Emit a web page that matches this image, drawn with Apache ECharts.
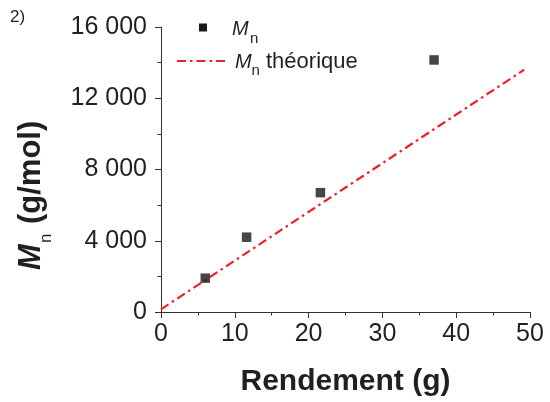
<!DOCTYPE html>
<html><head><meta charset="utf-8">
<script src="https://cdn.jsdelivr.net/npm/echarts@6/dist/echarts.min.js"></script>
<style>html,body{margin:0;padding:0;background:#fff}#c{width:550px;height:402px}</style>
</head><body><div id="c"></div>
<script>
// Measured data: yield (g) vs Mn (g/mol)
var rendement = [6.0, 11.6, 21.6, 37.0];
var mn = [1900, 4200, 6700, 14150];
// Theoretical Mn line endpoints
var theoX = [0, 49.2];
var theoY = [150, 13600];
var xTicks = [0, 10, 20, 30, 40, 50];
var yTicks = [0, 4000, 8000, 12000, 16000];
var xTitle = 'Rendement (g)';
var yTitleMain = 'M', yTitleSub = 'n', yTitleUnit = '(g/mol)';
var legendMain = 'M', legendSub = 'n', legendTheo = 'théorique';

var font = "'Liberation Sans', Arial, sans-serif";
var ink = '#231f20';
var chart = echarts.init(document.getElementById('c'), null, {renderer: 'canvas'});
function fmtY(v){ var s = String(v); return s.length > 3 ? s.slice(0, s.length-3) + ' ' + s.slice(-3) : s; }
function mid(f){ return 0.35 * f; }
chart.setOption({
  animation: false,
  backgroundColor: '#fff',
  grid: {left: 161, right: 20, top: 27, bottom: 89.5, containLabel: false},
  xAxis: {
    type: 'value', min: xTicks[0], max: xTicks[xTicks.length-1], interval: 10,
    name: xTitle, nameLocation: 'middle', nameGap: 55,
    nameTextStyle: {fontFamily: font, fontSize: 30, fontWeight: 'bold', color: ink},
    axisLine: {show: true, lineStyle: {color: '#333', width: 1}},
    axisTick: {show: true, inside: false, length: 6, lineStyle: {color: '#333'}},
    minorTick: {show: true, splitNumber: 2, length: 3.5, lineStyle: {color: '#333'}},
    splitLine: {show: false},
    axisLabel: {fontFamily: font, fontSize: 25, color: ink, margin: 10}
  },
  yAxis: {
    type: 'value', min: yTicks[0], max: yTicks[yTicks.length-1], interval: 4000,
    axisLine: {show: true, lineStyle: {color: '#333', width: 1}},
    axisTick: {show: true, inside: false, length: 6, lineStyle: {color: '#333'}},
    minorTick: {show: true, splitNumber: 2, length: 3.5, lineStyle: {color: '#333'}},
    splitLine: {show: false},
    axisLabel: {fontFamily: font, fontSize: 25, color: ink, margin: 14, formatter: fmtY}
  },
  series: [
    {
      name: 'Mn théorique', type: 'line', symbol: 'none',
      data: theoX.map(function(x, i){ return [x, theoY[i]]; }),
      lineStyle: {color: '#ee2026', width: 2.2, type: [9, 4, 2.5, 4]},
      z: 2
    },
    {
      name: 'Mn', type: 'scatter', symbol: 'rect', symbolSize: 9.5,
      data: rendement.map(function(x, i){ return [x, mn[i]]; }),
      itemStyle: {color: '#1a1718'},
      z: 3
    }
  ],
  graphic: [
    {type: 'text', x: 10, y: 23 - mid(17), style: {text: '2)', font: '17px ' + font, fill: ink, verticalAlign: 'middle'}},
    // Y axis title (rotated group)
    {type: 'group', x: 42, y: 270, rotation: Math.PI / 2, children: [
      {type: 'text', x: 0, y: -mid(31), style: {text: yTitleMain, font: 'italic bold 31px ' + font, fill: ink, verticalAlign: 'middle'}},
      {type: 'text', x: 27, y: 10 - mid(17), style: {text: yTitleSub, font: '17px ' + font, fill: ink, verticalAlign: 'middle'}},
      {type: 'text', x: 46, y: -mid(31), style: {text: yTitleUnit, font: 'bold 31px ' + font, fill: ink, verticalAlign: 'middle'}}
    ]},
    // Legend
    {type: 'rect', shape: {x: 199, y: 23.5, width: 8, height: 8}, style: {fill: '#1a1718'}},
    {type: 'text', x: 232, y: 36 - mid(20), style: {text: legendMain, font: 'italic 20px ' + font, fill: ink, verticalAlign: 'middle'}},
    {type: 'text', x: 250, y: 44 - mid(15), style: {text: legendSub, font: '15px ' + font, fill: ink, verticalAlign: 'middle'}},
    {type: 'line', shape: {x1: 177, y1: 61, x2: 227, y2: 61}, style: {stroke: '#ee2026', lineWidth: 2.2, lineDash: [9, 4, 2.5, 4]}},
    {type: 'text', x: 235, y: 69.3 - mid(20), style: {text: legendMain, font: 'italic 20px ' + font, fill: ink, verticalAlign: 'middle'}},
    {type: 'text', x: 251.5, y: 76.5 - mid(15), style: {text: legendSub, font: '15px ' + font, fill: ink, verticalAlign: 'middle'}},
    {type: 'text', x: 266, y: 69.3 - mid(22), style: {text: legendTheo, font: '22px ' + font, fill: ink, verticalAlign: 'middle'}}
  ]
});
</script></body></html>
